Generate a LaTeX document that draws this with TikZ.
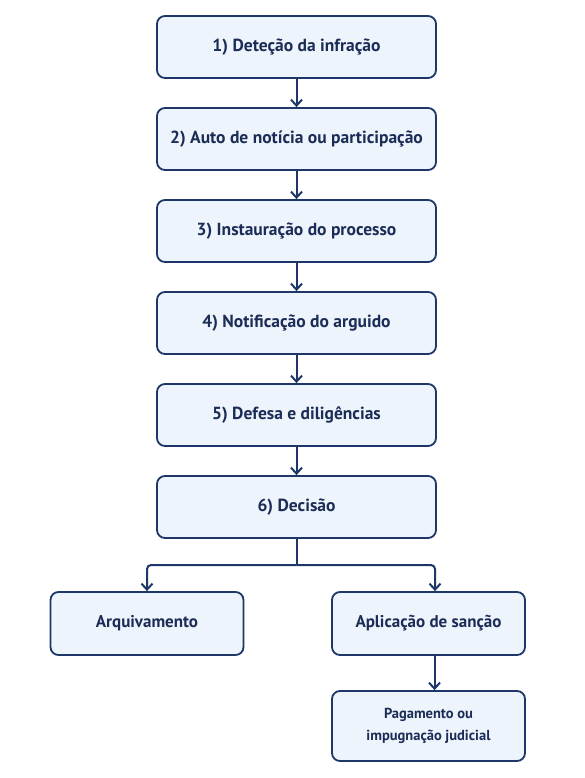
\documentclass[tikz,border=0pt]{standalone}
\usepackage{fontspec}
\setmainfont{PT Sans}
\usetikzlibrary{arrows.meta}
\definecolor{navy}{HTML}{1E3768}
\definecolor{boxfill}{HTML}{EEF4FB}
\definecolor{txt}{HTML}{1B2C57}
\tikzset{
  stepbox/.style={draw=navy, line width=1.8pt, fill=boxfill, rounded corners=8pt, inner sep=0pt, text=txt, font=\bfseries\fontsize{17.5}{21}\selectfont, align=center},
  conn/.style={draw=navy, line width=2pt, -{Straight Barb[length=6pt,width=11pt,line width=2pt]}},
}
\begin{document}
\begin{tikzpicture}[x=1pt,y=-1pt]
\useasboundingbox[fill=white] (0,0) rectangle (584,778);
\node[stepbox, minimum width=279pt, minimum height=62pt] (s1) at (296.5,47) {1) Deteção da infração};
\node[stepbox, minimum width=279pt, minimum height=62pt] (s2) at (296.5,139) {2) Auto de notícia ou participação};
\node[stepbox, minimum width=279pt, minimum height=62pt] (s3) at (296.5,231) {3) Instauração do processo};
\node[stepbox, minimum width=279pt, minimum height=62pt] (s4) at (296.5,323) {4) Notificação do arguido};
\node[stepbox, minimum width=279pt, minimum height=62pt] (s5) at (296.5,415) {5) Defesa e diligências};
\node[stepbox, minimum width=279pt, minimum height=62pt] (s6) at (296.5,507) {6) Decisão};
\node[stepbox, minimum width=193pt, minimum height=63pt, font=\bfseries\fontsize{17}{21}\selectfont] (arq) at (147,623.5) {Arquivamento};
\node[stepbox, minimum width=193pt, minimum height=63pt, font=\bfseries\fontsize{17}{21}\selectfont] (apl) at (428.5,623.5) {Aplicação de sanção};
\node[stepbox, minimum width=193pt, minimum height=70pt, font=\bfseries\fontsize{14.5}{22}\selectfont] (pag) at (428.5,726) {Pagamento ou\\impugnação judicial};
\foreach \a/\b in {s1/s2,s2/s3,s3/s4,s4/s5,s5/s6}{
  \draw[conn] (\a.south) -- (\b.north);
}
\coordinate (br) at (296.5,565);
\draw[draw=navy, line width=2pt] (s6.south) -- (br);
\draw[conn, rounded corners=4pt] (br) -| (arq.north);
\draw[conn, rounded corners=4pt] (br) -| ([xshift=6.5pt]apl.north);
\draw[conn] ([xshift=6pt]apl.south) -- ([xshift=6pt]pag.north);
\end{tikzpicture}
\end{document}
